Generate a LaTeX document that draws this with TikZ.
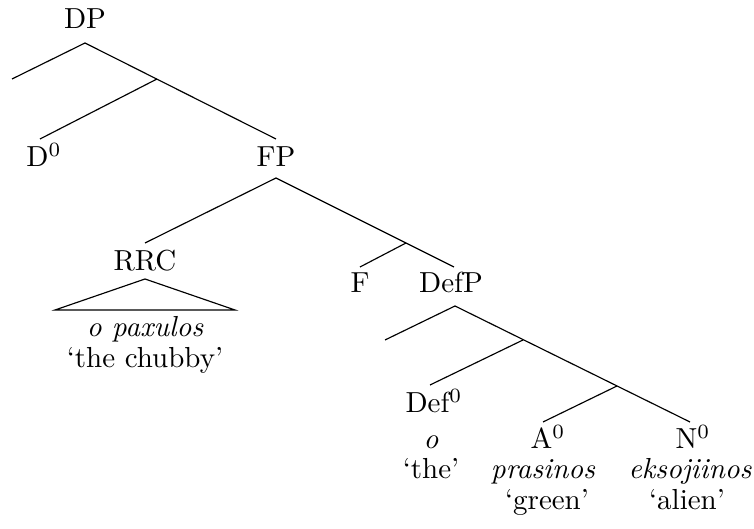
\documentclass[tikz,border=0pt]{standalone}
\begin{document}
\begin{tikzpicture}[x=0.345pt,y=-0.345pt,
  lab/.style={anchor=base,inner sep=0pt,font=\fontsize{10}{12}\selectfont},
  br/.style={line width=0.4pt}]
\useasboundingbox (0,0) rectangle (754,529);
% labels
\node[lab] (dp) at (85,29) {DP};
\node[lab] (d0) at (44,167) {D$^0$};
\node[lab] (fp) at (276,167) {FP};
\node[lab] (rrc) at (145,271) {RRC};
\node[lab] (f) at (360,293) {F};
\node[lab] (defp) at (451,293) {DefP};
\node[lab] (rrcw) at (145,337) {\itshape o paxulos};
\node[lab] (rrcg) at (145,368) {`the chubby'};
\node[lab] (def0) at (434,413) {Def$^0$};
\node[lab] (defw) at (431,449) {\itshape o};
\node[lab] (defg) at (431,479) {`the'};
\node[lab] (a0) at (548,449) {A$^0$};
\node[lab] (aw) at (543,479) {\itshape prasinos};
\node[lab] (ag) at (547,510) {`green'};
\node[lab] (n0) at (693,449) {N$^0$};
\node[lab] (nw) at (690,479) {\itshape eksojiinos};
\node[lab] (ng) at (687,510) {`alien'};
% branch points
\coordinate (dpb) at (85,43);
\coordinate (s1) at (12,79);
\coordinate (x1) at (157,79);
\coordinate (d0t) at (40,139);
\coordinate (fpt) at (276,139);
\coordinate (fpb) at (276,178);
\coordinate (rrct) at (145,243);
\coordinate (x2) at (406,243);
\coordinate (ft) at (360,267);
\coordinate (defpt) at (454,267);
\coordinate (rrcb) at (145,279);
\coordinate (tl) at (55,310);
\coordinate (tr) at (235,310);
\coordinate (defpb) at (455,306);
\coordinate (s2) at (385,340);
\coordinate (x3) at (523,340);
\coordinate (def0t) at (430,385);
\coordinate (x4) at (617,386);
\coordinate (a0t) at (543,422);
\coordinate (n0t) at (690,422);
% branches
\draw[br] (s1) -- (dpb) -- (fpt);
\draw[br] (x1) -- (d0t);
\draw[br] (rrct) -- (fpb) -- (defpt);
\draw[br] (x2) -- (ft);
\draw[br] (rrcb) -- (tl) -- (tr) -- cycle;
\draw[br] (s2) -- (defpb) -- (n0t);
\draw[br] (x3) -- (def0t);
\draw[br] (x4) -- (a0t);
\end{tikzpicture}
\end{document}
